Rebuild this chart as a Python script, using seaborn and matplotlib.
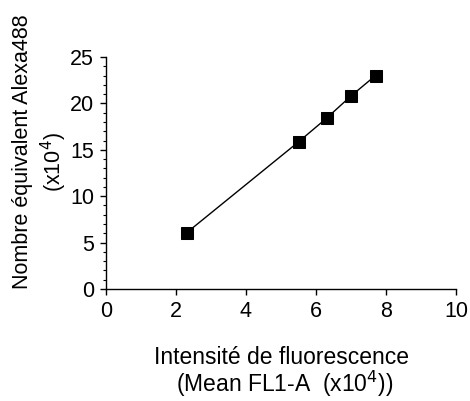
import matplotlib
matplotlib.use("Agg")
import matplotlib.pyplot as plt
import seaborn as sns
import pandas as pd
from matplotlib.ticker import MultipleLocator

intensity = [2.3, 5.5, 6.3, 7.0, 7.7]
equivalent = [6.05, 15.85, 18.4, 20.8, 23.0]
x_ticks = [0, 2, 4, 6, 8, 10]
y_ticks = [0, 5, 10, 15, 20, 25]

df = pd.DataFrame({"x": intensity, "y": equivalent})

sns.set_style("ticks")
plt.rcParams["font.family"] = ["Liberation Sans", "DejaVu Sans"]
plt.rcParams["text.color"] = "black"
plt.rcParams["axes.labelcolor"] = "black"
plt.rcParams["xtick.color"] = "black"
plt.rcParams["ytick.color"] = "black"

W, H = 470, 401
fig = plt.figure(figsize=(W / 100, H / 100), dpi=100)
ax = fig.add_axes([106 / W, 1 - 289 / H, (456 - 106) / W, (289 - 57) / H])

sns.lineplot(data=df, x="x", y="y", ax=ax, color="black", linewidth=1.0,
             marker="s", markersize=8, markeredgecolor="black",
             markerfacecolor="black")

ax.set_xlim(0, 10)
ax.set_ylim(0, 25)
ax.set_xticks(x_ticks)
ax.set_yticks(y_ticks)
ax.yaxis.set_minor_locator(MultipleLocator(1))
ax.tick_params(axis="both", which="major", labelsize=15.5, length=4.5, width=1,
               pad=4, direction="out", colors="black", labelcolor="black")
ax.tick_params(axis="y", which="minor", length=2.5, width=0.8, direction="out",
               colors="black")
for s in ["top", "right"]:
    ax.spines[s].set_visible(False)
for s in ["left", "bottom"]:
    ax.spines[s].set_linewidth(1.0)
    ax.spines[s].set_color("black")
ax.set_xlabel("")
ax.set_ylabel("")

fig.text(281 / W, 1 - 364 / H, "Intensité de fluorescence", fontsize=16.5,
         ha="center", va="baseline", color="black")
fig.text(285 / W, 1 - 392 / H, "(Mean FL1-A  (x10$^{4}$))", fontsize=16.5,
         ha="center", va="baseline", color="black")
fig.text(23 / W, 1 - 152 / H, "Nombre équivalent Alexa488", fontsize=15.5,
         rotation=90, ha="center", va="center", color="black")
fig.text(54 / W, 1 - 162 / H, "(x10$^{4}$)", fontsize=15.5,
         rotation=90, ha="center", va="center", color="black")

fig.savefig("out.png", dpi=100)
